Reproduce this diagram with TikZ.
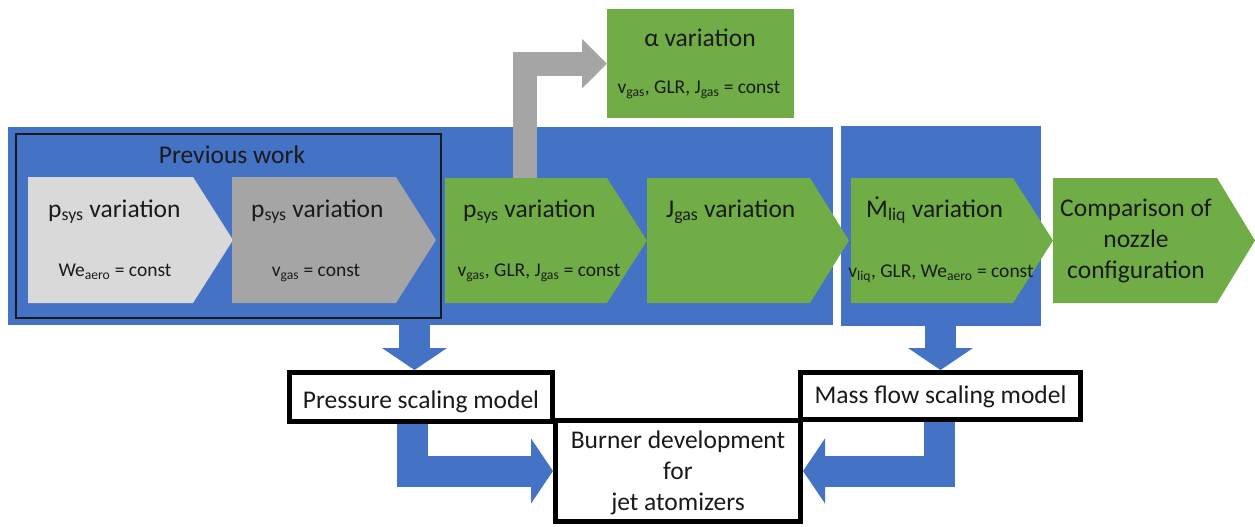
\documentclass[tikz,border=0pt]{standalone}
\usepackage{fontspec}
\setmainfont{Carlito}
\usetikzlibrary{arrows.meta,calc}
\definecolor{ublue}{HTML}{4472C4}
\definecolor{ugreen}{HTML}{70AD47}
\definecolor{ugray}{HTML}{A5A5A5}
\definecolor{lgray}{HTML}{D9D9D9}
\definecolor{utext}{HTML}{1A1A1A}
\newcommand\bigtxt{\fontsize{25.5}{31}\selectfont}
\newcommand\smtxt{\fontsize{19.5}{23}\selectfont}
\begin{document}
\begin{tikzpicture}[x=1pt,y=-1pt,
  panel/.style={fill=ublue,inner sep=0,outer sep=0,anchor=north west},
  title/.style={font=\bigtxt,text=utext,inner sep=0,anchor=base west},
  cond/.style={font=\smtxt,text=utext,inner sep=0,anchor=base},
  label/.style={font=\bigtxt,text=utext,inner sep=0,align=center},
  modelbox/.style={draw=black,line width=5pt,fill=white,inner sep=0},
  bluearrow/.style={draw=ublue,line width=31pt,line join=miter,line cap=butt,-{Triangle[width=64pt,length=22pt]}},
  grayarrow/.style={draw=ugray,line width=24pt,line join=miter,line cap=butt,-{Triangle[width=48pt,length=25pt]}}]
\useasboundingbox (0,0) rectangle (1255,527);

% blue panels
\node[panel,minimum width=825pt,minimum height=198pt] (blueA) at (8,127) {};
\node[panel,minimum width=200pt,minimum height=200pt] (blueB) at (841,126) {};
% previous work frame
\node[draw=utext,line width=1.6pt,inner sep=0,minimum width=425pt,minimum height=184pt,anchor=north west] (prev) at (15,133) {};
\node[label,anchor=base] (prevt) at (232,163) {Previous work};

% chevrons
\fill[lgray] (28,177) -- (193,177) -- (233,240) -- (193,303) -- (28,303) -- cycle;
\fill[ugray] (232,177) -- (396,177) -- (436,240) -- (396,303) -- (232,303) -- cycle;
\fill[ugreen] (445,178) -- (607,178) -- (647,240.5) -- (607,303) -- (445,303) -- cycle;
\fill[ugreen] (647,178) -- (810,178) -- (849,240.5) -- (810,303) -- (647,303) -- cycle;
\fill[ugreen] (851,178) -- (1013,178) -- (1053,240.5) -- (1013,303) -- (851,303) -- cycle;
\fill[ugreen] (1053,178) -- (1217,178) -- (1255,240.5) -- (1217,303) -- (1053,303) -- cycle;
\coordinate (c3top) at (525,178);

\node[title] (t1) at (48,217) {p\textsubscript{sys} variation};
\node[cond] (s1) at (115,276) {We\textsubscript{aero} = const};
\node[title] (t2) at (251,217) {p\textsubscript{sys} variation};
\node[cond] (s2) at (316,276) {v\textsubscript{gas} = const};
\node[title] (t3) at (463,217) {p\textsubscript{sys} variation};
\node[cond] (s3) at (539,276) {v\textsubscript{gas}, GLR, J\textsubscript{gas} = const};
\node[title] (t4) at (666,217) {J\textsubscript{gas} variation};
\node[title] (t5) at (866,217) {Ṁ\textsubscript{liq} variation};
\node[cond] (s5) at (941,277) {v\textsubscript{liq}, GLR, We\textsubscript{aero} = const};
\node[label] (t6) at (1136,241) {Comparison of\\nozzle\\configuration};

% alpha box
\node[fill=ugreen,inner sep=0,minimum width=187pt,minimum height=109pt,anchor=north west] (alpha) at (607,9) {};
\node[label,anchor=base] (ta) at (700,47) {α variation};
\node[cond] (sa) at (699,93) {v\textsubscript{gas}, GLR, J\textsubscript{gas} = const};

% model boxes
\node[modelbox,minimum width=245pt,minimum height=101pt] (burner) at (678,471) {};
\node[label] (burnert) at (678,473) {Burner development\\for\\jet atomizers};
\node[modelbox,minimum width=263pt,minimum height=49pt] (pres) at (421,397) {};
\node[label,anchor=base] (prest) at (421,408) {Pressure scaling model};
\node[modelbox,minimum width=280pt,minimum height=47pt] (mass) at (940.5,396) {};
\node[label,anchor=base] (masst) at (940.5,403) {Mass flow scaling model};

\coordinate (d1) at (414.5,0);
\coordinate (d2) at (940.5,0);
\coordinate (b1) at (412.5,0);
\coordinate (b2) at (939.5,0);

% arrows
\draw[bluearrow] (d1 |- blueA.south) -- (d1 |- pres.north);
\draw[bluearrow] (d2 |- blueB.south) -- (d2 |- mass.north);
\draw[bluearrow] (b1 |- pres.south) |- (burner.west);
\draw[bluearrow] (b2 |- mass.south) |- (burner.east);
\draw[grayarrow] (c3top) |- (alpha.west);
\end{tikzpicture}
\end{document}
